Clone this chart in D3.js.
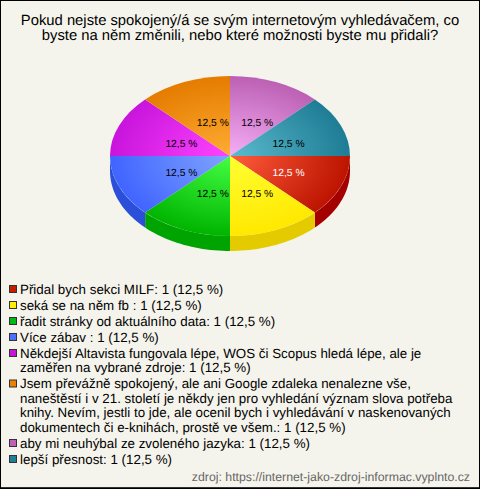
<!DOCTYPE html>
<html><head><meta charset="utf-8">
<script src="https://cdn.jsdelivr.net/npm/d3@7/dist/d3.min.js"></script>
<style>html,body{margin:0;padding:0;background:#fff}svg{display:block}text{font-family:"Liberation Sans",Arial,sans-serif;text-rendering:geometricPrecision}</style>
</head><body><svg id="c" width="480" height="489"></svg>
<script>
const titleLines=["Pokud nejste spokojený/á se svým internetovým vyhledávačem, co","byste na něm změnili, nebo které možnosti byste mu přidali?"];
const values=[1,1,1,1,1,1,1,1];
const pctLabel="12,5 %";
const legendLabels=[
["Přidal bych sekci MILF: 1 (12,5 %)"],
["seká se na něm fb : 1 (12,5 %)"],
["řadit stránky od aktuálního data: 1 (12,5 %)"],
["Více zábav : 1 (12,5 %)"],
["Někdejší Altavista fungovala lépe, WOS či Scopus hledá lépe, ale je","zaměřen na vybrané zdroje: 1 (12,5 %)"],
["Jsem převážně spokojený, ale ani Google zdaleka nenalezne vše,","naneštěstí i v 21. století je někdy jen pro vyhledání význam slova potřeba","knihy. Nevím, jestli to jde, ale ocenil bych i vyhledávání v naskenovaných","dokumentech či e-knihách, prostě ve všem.: 1 (12,5 %)"],
["aby mi neuhýbal ze zvoleného jazyka: 1 (12,5 %)"],
["lepší přesnost: 1 (12,5 %)"]];
const innerColors=["#ff5c3c","#ffff33","#44ff44","#80a4ff","#ff44ff","#ffac33","#f6aef6","#5cbbce"];
const outerColors=["#bc1400","#ffe800","#00b400","#4064ff","#c814dc","#e47c00","#bc60b4","#1e7c94"];
const sideColors=["#a50000","#e3cb00","#00a400","#2b4fd8","#8a0a9a","#a85a00","#80407a","#105565"];
const legendColors=["#c41e00","#ffee00","#00b81a","#4a70ff","#c814d8","#ee8000","#c060b8","#1f7f96"];
const sourceText="zdroj: https://internet-jako-zdroj-informac.vyplnto.cz";

const W=480,H=489,cx=230,cy=156,rx=120,ry=80,depth=15;
const svg=d3.select("#c");
svg.append("rect").attr("x",.5).attr("y",.5).attr("width",W-1).attr("height",H-1).attr("fill","#f5f4ec").attr("stroke","#000");
svg.append("rect").attr("x",1).attr("y",H-2).attr("width",W-2).attr("height",1).attr("fill","#333");

svg.selectAll("text.t").data(titleLines).join("text").attr("class","t")
 .attr("x",240).attr("y",(d,i)=>25+i*15).attr("text-anchor","middle").attr("font-size",14.8).attr("fill","#000").text(d=>d);

// Angles run clockwise from 3 o'clock on the screen
const pie=d3.pie().sort(null).startAngle(0).endAngle(2*Math.PI);
const slices=pie(values);
const X=a=>cx+rx*Math.cos(a),Y=a=>cy+ry*Math.sin(a);
const defs=svg.append("defs");
slices.forEach((s,i)=>{
 const g=defs.append("radialGradient").attr("id","g"+i).attr("gradientUnits","userSpaceOnUse")
  .attr("cx",0).attr("cy",0).attr("r",rx);
 g.append("stop").attr("offset",0).attr("stop-color",innerColors[i]);
 g.append("stop").attr("offset",1).attr("stop-color",outerColors[i]);
});
// side wall (front half only)
const side=d3.area().x(a=>X(a)).y0(a=>Y(a)).y1(a=>Y(a)+depth);
slices.forEach((s,i)=>{
 const a0=s.startAngle,a1=Math.min(s.endAngle,Math.PI);
 if(a0>=Math.PI)return;
 svg.append("path").attr("d",side(d3.range(0,25).map(k=>a0+(a1-a0)*k/24))).attr("fill",sideColors[i]);
});
// top face: d3.arc angles start at 12 o'clock, so shift by 90 degrees
const arc=d3.arc().innerRadius(0).outerRadius(rx);
const topFace=svg.append("g").attr("transform",`translate(${cx},${cy}) scale(1,${ry/rx})`);
topFace.selectAll("path").data(slices).join("path")
 .attr("d",d=>arc({startAngle:d.startAngle+Math.PI/2,endAngle:d.endAngle+Math.PI/2}))
 .attr("fill",(d,i)=>`url(#g${i})`);
// labels
const lx=235,ly=158,lrx=58,lry=38.5;
svg.selectAll("text.p").data(slices).join("text").attr("class","p")
 .attr("x",d=>lx+lrx*Math.cos((d.startAngle+d.endAngle)/2))
 .attr("y",d=>ly+lry*Math.sin((d.startAngle+d.endAngle)/2)+3.5)
 .attr("text-anchor","middle").attr("font-size",10.3)
 .attr("fill",(d,i)=>i===0?"#fff":"#000").text(pctLabel);
// legend
let y=289;
legendLabels.forEach((lines,i)=>{
 svg.append("rect").attr("x",9.5).attr("y",y-3.5).attr("width",7).attr("height",7).attr("fill",legendColors[i]).attr("stroke","#333").attr("stroke-width",1);
 lines.forEach((l,j)=>{
  svg.append("text").attr("x",20).attr("y",y+4.5+j*14.5).attr("font-size",13.35).attr("fill","#000").text(l);
 });
 y+=lines.length*14.5+1.5;
});
svg.append("text").attr("x",470).attr("y",481).attr("text-anchor","end").attr("font-size",12.3).attr("fill","#666").text(sourceText);
</script></body></html>
